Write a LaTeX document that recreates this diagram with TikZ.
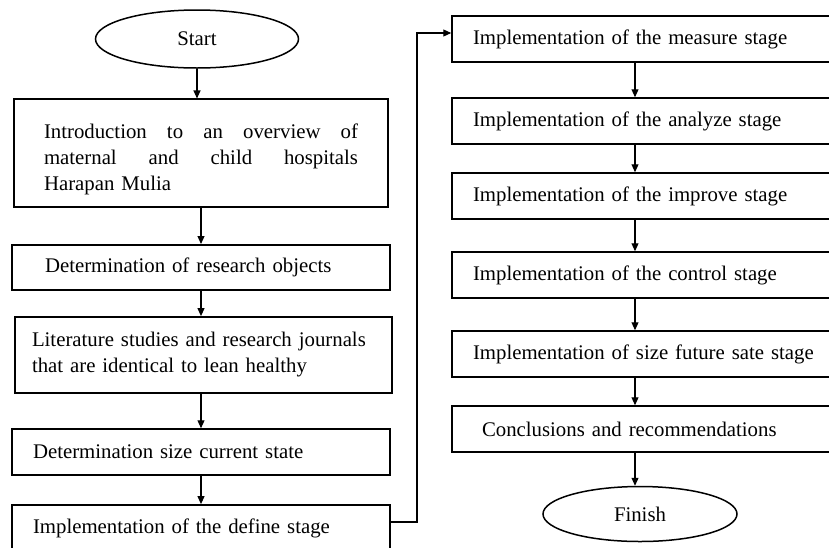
\documentclass[tikz,border=0pt]{standalone}
\usepackage{fontspec}
\setmainfont{Liberation Serif}
\usetikzlibrary{arrows.meta,shapes.geometric}
\begin{document}
\begin{tikzpicture}[x=1pt,y=-1pt,
  font=\fontsize{20.8}{26}\selectfont,
  box/.style={draw=black,rectangle,line width=1.5pt,align=left,inner ysep=0pt},
  term/.style={draw=black,ellipse,line width=1.5pt,inner sep=0pt},
  conn/.style={line width=1.1pt,-{Triangle[length=8pt,width=7pt]}}]
\useasboundingbox (0,0) rectangle (829,547);
\clip (0,0) rectangle (829,547);
% left column
\node[term,minimum width=203pt,minimum height=58pt] (start) at (197,39) {Start};
\node[box,line width=1.1pt,minimum width=374pt,minimum height=108pt,text width=314pt,inner xsep=30pt] (b1) at (201,153)
 {\rule{0pt}{27pt}Introduction \hfill to \hfill an \hfill overview \hfill of\\maternal \hfill and \hfill child \hfill hospitals\\Harapan Mulia};
\node[box,line width=2pt,minimum width=378pt,minimum height=45pt,text width=312pt,inner xsep=33pt] (b2) at (201,267.5)
 {Determination of research objects};
\node[box,line width=1.8pt,minimum width=377pt,minimum height=76pt,text width=343pt,inner xsep=17pt] (b3) at (203.5,355)
 {Literature studies and research journals\\that are identical to lean healthy};
\node[box,minimum width=378pt,minimum height=46pt,text width=336pt,inner xsep=21pt] (b4) at (201,452)
 {Determination size current state};
\node[box,line width=1.8pt,minimum width=378pt,minimum height=46pt,text width=336pt,inner xsep=21pt] (b5) at (201,528)
 {Implementation of the define stage};
% right column
\node[box,minimum width=393pt,minimum height=46pt,text width=351pt,inner xsep=21pt] (r1) at (648.5,39)
 {Implementation of the measure stage};
\node[box,minimum width=393pt,minimum height=46pt,text width=351pt,inner xsep=21pt] (r2) at (648.5,121)
 {Implementation of the analyze stage};
\node[box,minimum width=393pt,minimum height=46pt,text width=351pt,inner xsep=21pt] (r3) at (648.5,196)
 {Implementation of the improve stage};
\node[box,minimum width=393pt,minimum height=46pt,text width=351pt,inner xsep=21pt] (r4) at (648.5,275)
 {Implementation of the control stage};
\node[box,minimum width=393pt,minimum height=46pt,text width=351pt,inner xsep=21pt] (r5) at (648.5,354)
 {Implementation of size future sate stage};
\node[box,minimum width=393pt,minimum height=46pt,text width=333pt,inner xsep=30pt] (r6) at (648.5,429)
 {Conclusions and recommendations};
\node[term,minimum width=194pt,minimum height=55pt] (finish) at (640,514) {Finish};
% connectors
\draw[conn] (start.south) -- (b1.north -| start.south);
\draw[conn] (b1.south) -- (b2.north -| b1.south);
\draw[conn] (b2.south) -- (b3.north -| b2.south);
\draw[conn] (b3.south -| b2.south) -- (b4.north -| b2.south);
\draw[conn] (b4.south) -- (b5.north -| b4.south);
\coordinate (ax) at (635,0);
\coordinate (lx) at (417,0);
\draw[conn] (r1.south -| ax) -- (r2.north -| ax);
\draw[conn] (r2.south -| ax) -- (r3.north -| ax);
\draw[conn] (r3.south -| ax) -- (r4.north -| ax);
\draw[conn] (r4.south -| ax) -- (r5.north -| ax);
\draw[conn] (r5.south -| ax) -- (r6.north -| ax);
\draw[conn] (r6.south -| ax) -- (finish.north -| ax);
\draw[conn] ([yshift=6pt]b5.east) -- ([yshift=6pt]b5.east -| lx) -- ([yshift=6pt]r1.west -| lx) -- ([yshift=6pt]r1.west);
\end{tikzpicture}
\end{document}
